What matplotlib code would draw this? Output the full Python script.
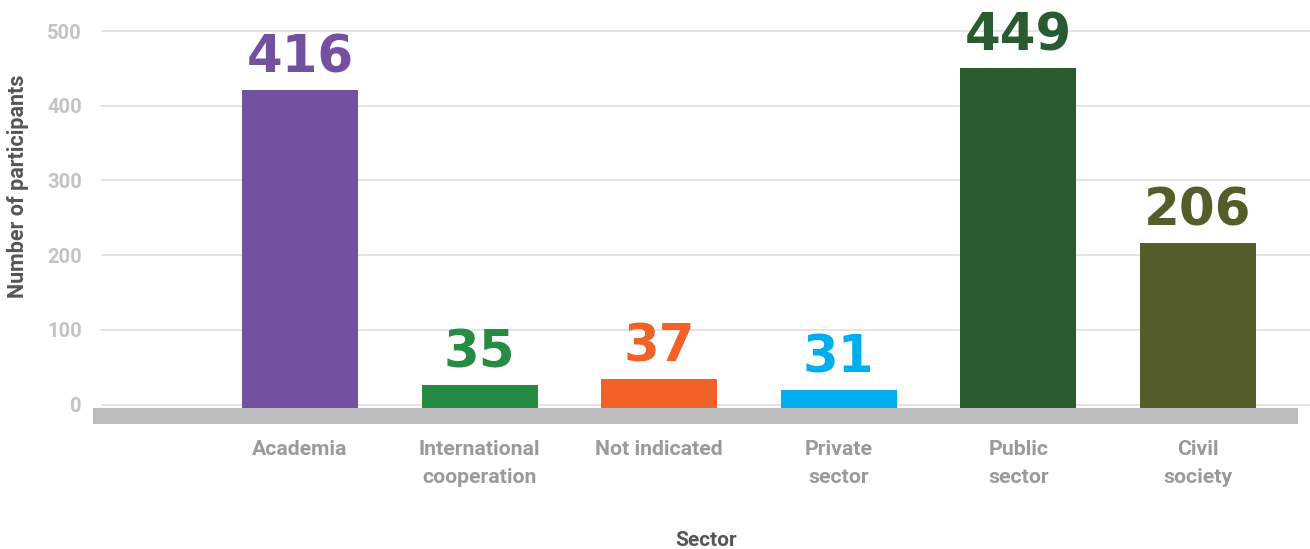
import matplotlib.pyplot as plt
import numpy as np

# Дані
sectors = ["Academia", "International\ncooperation", "Not indicated",
           "Private\nsector", "Public\nsector", "Civil\nsociety"]
bar_heights = [421, 26, 34, 19, 450, 216]   # висоти стовпців, як намальовано
labels = [416, 35, 37, 31, 449, 206]        # підписи над стовпцями
colors = ["#7451a0", "#268b43", "#f26125", "#00aeef", "#285c30", "#545c2a"]

W, H = 1310, 549
fig = plt.figure(figsize=(W / 100, H / 100), dpi=100)
ax = fig.add_axes([93 / W, (H - 424.3) / H, (1310 - 93) / W, 424.3 / H])

x = np.arange(len(sectors))
ax.set_xlim((93 - 300) / 179.6, (1310 - 300) / 179.6)
ax.set_ylim(-26.5, 541.5)

# сітка
yt = [0, 100, 200, 300, 400, 500]
x0 = (101 - 93) / (1310 - 93)
ax.hlines(yt, x0, 1, transform=ax.get_yaxis_transform(), color="#e2e2e2", lw=1.3, zorder=0)

# сіра смуга під нулем
ax.axhspan(-26.5, -4.3, xmin=0, xmax=(1297.7 - 93) / (1310 - 93), color="#bcbcbe", lw=0, zorder=3)

ax.bar(x, np.array(bar_heights) + 4.3, bottom=-4.3, width=0.646, color=colors, zorder=2)

for xi, h, lab, c in zip(x, bar_heights, labels, colors):
    ax.annotate(str(lab), (xi, h), xytext=(0, 5), textcoords="offset points",
                ha="center", va="bottom", fontsize=37, fontweight="heavy",
                family="DejaVu Sans", color=c)

for s in ax.spines.values():
    s.set_visible(False)

ax.set_yticks(yt)
ax.set_yticklabels([str(v) for v in yt], family="Roboto", fontweight="bold",
                   fontsize=14.5, color="#c3c3c5")
ax.tick_params(axis="y", length=0, pad=8)

ax.set_xticks(x)
ax.set_xticklabels(sectors, family="Roboto", fontweight="bold", fontsize=15.3,
                   color="#9a9a9c", linespacing=1.6)
ax.tick_params(axis="x", length=0, pad=11)

fig.text(18 / W, 1 - 186 / H, "Number of participants", rotation=90, ha="center", va="center",
         family="Roboto", fontweight="bold", fontsize=15.5, color="#555555")
fig.text(706 / W, 1 - 541 / H, "Sector", ha="center", va="center",
         family="Roboto", fontweight="bold", fontsize=15, color="#555555")

fig.savefig("out.png", dpi=100)
